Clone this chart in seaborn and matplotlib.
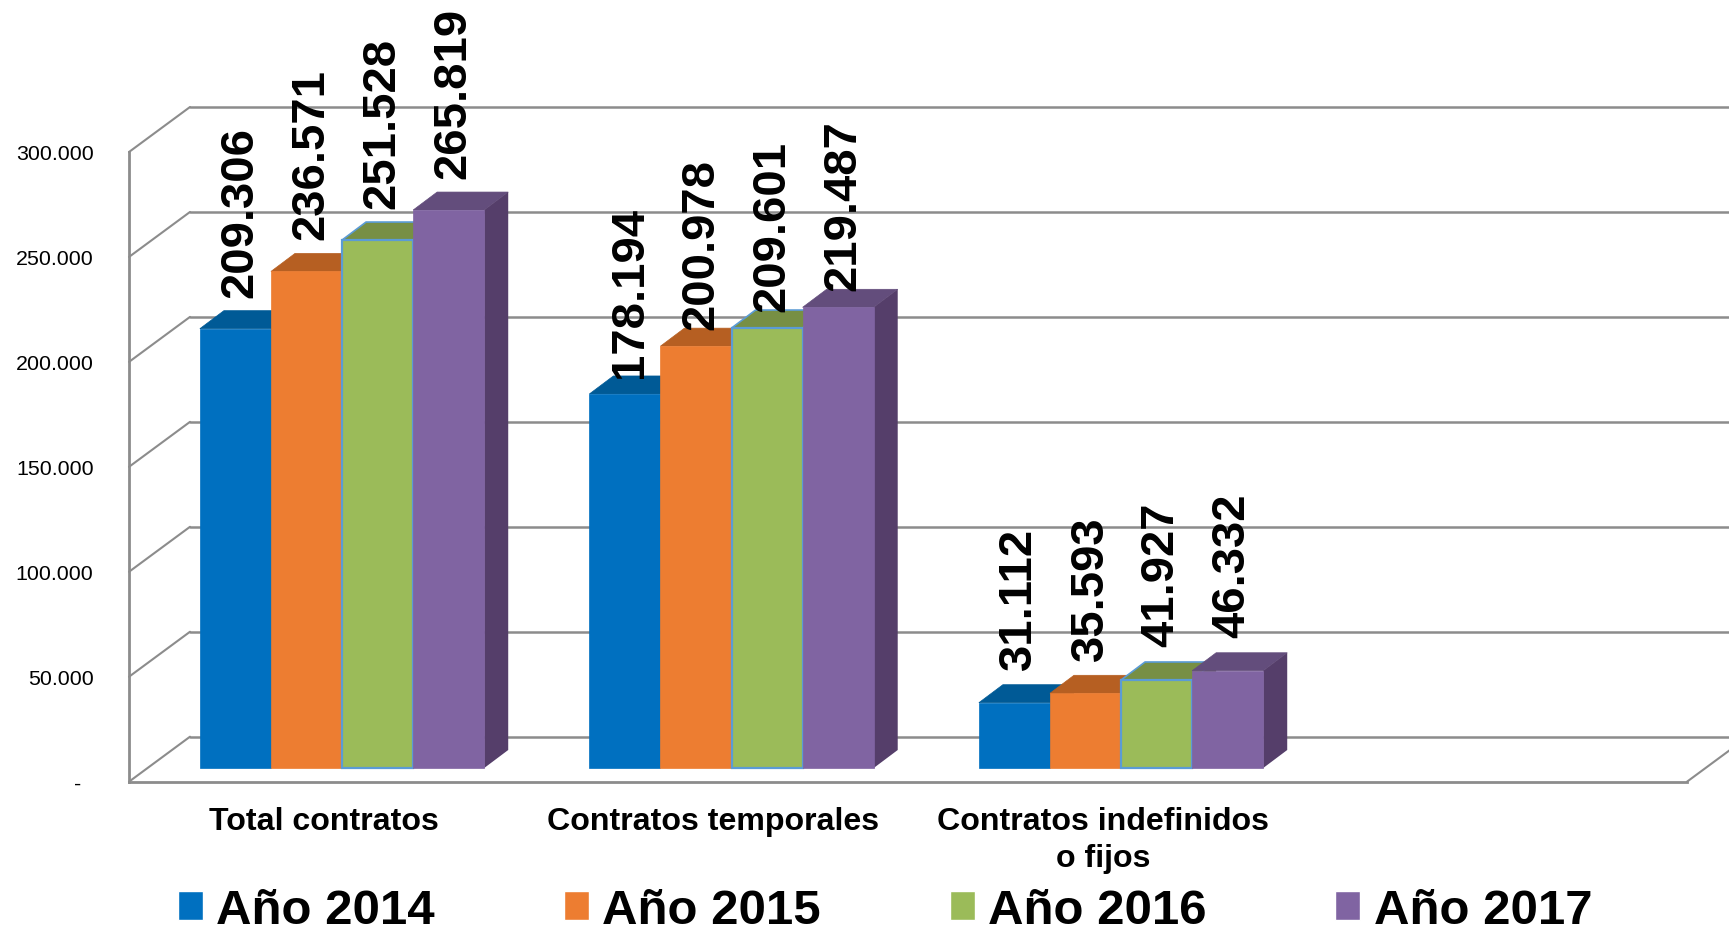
import pandas as pd
import matplotlib
matplotlib.use('Agg')
import matplotlib.pyplot as plt
import seaborn as sns
from matplotlib.patches import Polygon
from matplotlib.transforms import Affine2D, IdentityTransform

categorias = ['Total contratos', 'Contratos temporales', 'Contratos indefinidos\no fijos']
anios = ['Año 2014', 'Año 2015', 'Año 2016', 'Año 2017']
valores_2014 = [209306, 178194, 31112]
valores_2015 = [236571, 200978, 35593]
valores_2016 = [251528, 209601, 41927]
valores_2017 = [265819, 219487, 46332]
ticks_y = [0, 50000, 100000, 150000, 200000, 250000, 300000]
ticks_y_txt = ['-\u00a0\u00a0', '50.000', '100.000', '150.000', '200.000', '250.000', '300.000']

colores = ['#0070C0', '#ED7D31', '#9BBB59', '#8064A2']
colores_top = ['#005A96', '#B65F22', '#778F44', '#634D7C']
colores_lado = ['#004F85', '#9C5119', '#66793A', '#553E6A']
gris = '#8C8C8C'

W, H = 1729, 929
# marco frontal en pixeles
izq, der, base, tope = 129, 1687, 782.7, 153
# profundidad pared del fondo / desplazamiento y grosor de barras
fondo_dx, fondo_dy = 61, 45
barra_dx, barra_dy = 18.3, 13.7
prof_dx, prof_dy = 24, 18
# separacion etiqueta-barra por categoria (px)
sep_etiqueta = [32, 17, 33.5]

sns.set_theme(style='white')
plt.rcParams['font.family'] = ['Liberation Sans', 'DejaVu Sans']

df = pd.DataFrame({
    'tipo': categorias * 4,
    'anio': [a for a in anios for _ in categorias],
    'contratos': valores_2014 + valores_2015 + valores_2016 + valores_2017,
})

fig = plt.figure(figsize=(W / 100, H / 100), dpi=100)
ax = fig.add_axes([izq / W, 1 - base / H, (der - izq) / W, (base - tope) / H])

sns.barplot(data=df, x='tipo', y='contratos', hue='anio', order=categorias, hue_order=anios,
            palette=colores, width=0.73, gap=0, saturation=1, ax=ax)
ax.set_xlim(-0.5, 3.5)
ax.set_ylim(0, 300000)
ax.set_xlabel('')
ax.set_ylabel('')
ax.set_yticks(ticks_y)
ax.set_yticklabels(ticks_y_txt, fontsize=15.4, color='black')
ax.tick_params(axis='y', length=0, pad=25.5)
ax.tick_params(axis='x', length=0, pad=17.5)
for lab in ax.get_xticklabels():
    lab.set_fontsize(23.1)
    lab.set_fontweight('bold')
    lab.set_color('black')
    lab.set_multialignment('center')
    lab.set_linespacing(1.32)

sns.despine(ax=ax)
for lado in ['left', 'bottom']:
    ax.spines[lado].set_color(gris)
    ax.spines[lado].set_linewidth(2)

# pared del fondo y diagonales del suelo
tr_fondo = ax.transData + Affine2D().translate(fondo_dx, fondo_dy)
for v in ticks_y:
    ax.plot([-0.5, 4.0], [v, v], color=gris, lw=1.8, transform=tr_fondo, clip_on=False, zorder=0.5)
    p = ax.transData.transform((-0.5, v))
    ax.plot([p[0], p[0] + fondo_dx], [p[1], p[1] + fondo_dy], color=gris, lw=1.5,
            transform=IdentityTransform(), clip_on=False, zorder=0.5)
p = ax.transData.transform((3.5, 0))
ax.plot([p[0], p[0] + fondo_dx], [p[1], p[1] + fondo_dy], color=gris, lw=1.5,
        transform=IdentityTransform(), clip_on=False, zorder=0.5)

# barras: frente desplazado + cara superior y lateral
tr_barra = ax.transData + Affine2D().translate(barra_dx, barra_dy)
z = 3
for i, cont in enumerate(ax.containers):
    for j, bar in enumerate(cont):
        x0, w, h = bar.get_x(), bar.get_width(), bar.get_height()
        bar.set_transform(tr_barra)
        bar.set_clip_on(False)
        if i == 2:
            bar.set_edgecolor('#5B9BD5')
            bar.set_linewidth(1.6)
        else:
            bar.set_edgecolor(colores[i])
            bar.set_linewidth(0.5)
        a = ax.transData.transform((x0, 0)) + (barra_dx, barra_dy)
        b = ax.transData.transform((x0 + w, h)) + (barra_dx, barra_dy)
        top = Polygon([(a[0], b[1]), (b[0], b[1]), (b[0] + prof_dx, b[1] + prof_dy), (a[0] + prof_dx, b[1] + prof_dy)],
                      closed=True, facecolor=colores_top[i], edgecolor='#5B9BD5' if i == 2 else colores_top[i],
                      lw=1.2 if i == 2 else 0.5, transform=IdentityTransform(), clip_on=False, zorder=z)
        lado = Polygon([(b[0], a[1]), (b[0], b[1]), (b[0] + prof_dx, b[1] + prof_dy), (b[0] + prof_dx, a[1] + prof_dy)],
                       closed=True, facecolor=colores_lado[i], edgecolor='none',
                       transform=IdentityTransform(), clip_on=False, zorder=z)
        ax.add_patch(top)
        ax.add_patch(lado)
        bar.set_zorder(z + 0.1)
        ax.annotate(f'{int(h):,}'.replace(',', '.'), xy=(x0 + w / 2, h),
                    xytext=((barra_dx + 5) * 0.72, (barra_dy + sep_etiqueta[j]) * 0.72), textcoords='offset points',
                    rotation=90, ha='center', va='bottom', fontsize=34, fontweight='bold',
                    color='black', annotation_clip=False, zorder=20)
    z += 1

leg = ax.legend(loc='center left', bbox_to_anchor=(178 / W, 1 - 911.5 / H), bbox_transform=fig.transFigure,
                ncol=4, frameon=False, fontsize=35.4, borderpad=0, borderaxespad=0, handlelength=0.51,
                handleheight=0.51, handletextpad=0.27, columnspacing=2.62, title=None)
for t in leg.get_texts():
    t.set_fontweight('bold')
    t.set_color('black')

plt.savefig('out.png', dpi=100)
